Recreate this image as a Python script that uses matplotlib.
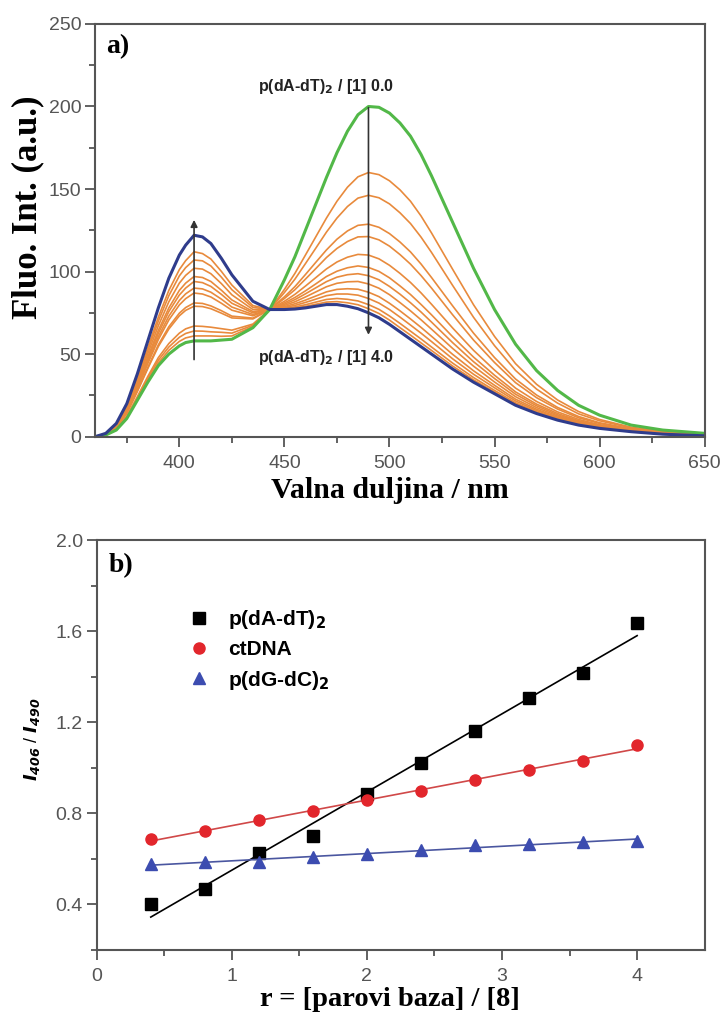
import numpy as np
import matplotlib
matplotlib.use("Agg")
import matplotlib.pyplot as plt

# panel a) - emission spectra, wavelength grid (nm)
valna = [360, 365, 370, 375, 380, 385, 390, 395, 400, 403, 407, 411, 415, 420, 425, 435, 443,
         450, 455, 460, 465, 470, 475, 480, 485, 490, 495, 500, 505, 510, 515, 520,
         530, 540, 550, 560, 570, 580, 590, 600, 615, 630, 650]

# p(dA-dT)2 / [1] = 0.0 (green)
zelena = [0, 1, 4, 11, 22, 33, 43, 50, 55, 57, 58, 58, 58, 58.5, 59, 66, 77,
          95, 109, 125, 141, 157, 172, 185, 195, 200, 199.5, 196, 190, 182, 171, 158,
          130, 102, 77, 56, 40, 28, 19, 13, 7, 4, 2]

# p(dA-dT)2 / [1] = 4.0 (blue)
plava = [0, 2, 8, 20, 38, 58, 78, 96, 110, 116, 122, 121, 117, 108, 98, 82, 77,
         77, 77.3, 78, 79, 80, 80, 79, 77.5, 75, 72, 68, 63.5, 59, 54.5, 50,
         41, 33, 26, 19, 14, 10, 7, 5, 3, 1.5, 0.5]

# intermediate titration spectra (orange)
narancaste = [
    [0, 1, 4.2, 11.5, 22.8, 34.2, 44.7, 52.3, 57.7, 59.8, 61, 61, 61, 60.8, 61, 66.8, 77,
     89.2, 98.9, 110, 121.2, 132.4, 142.6, 151.1, 157.4, 160, 158.7, 155, 149.5, 142.6, 133.7, 123.4,
     101.5, 79.9, 60.7, 44.2, 31.7, 22.2, 15.2, 10.4, 5.7, 3.2, 1.5],
    [0, 1.1, 4.4, 11.8, 23.5, 35.3, 46.3, 54.3, 60.2, 62.5, 64, 63.9, 63.5, 63.2, 62.7, 67.5, 77,
     87.3, 95.4, 104.8, 114.3, 123.9, 132.4, 139.4, 144.5, 146.2, 144.7, 141, 135.6, 129.1, 120.9, 111.6,
     91.7, 72.3, 55.1, 40.1, 28.8, 20.3, 13.8, 9.6, 5.3, 2.9, 1.4],
    [0, 1.1, 4.6, 12.3, 24.2, 36.5, 47.9, 56.4, 62.7, 65.3, 67, 66.8, 66.3, 65.4, 64.5, 68.2, 77,
     84.7, 90.9, 98.2, 105.7, 113.1, 119.6, 124.6, 128, 128.7, 126.8, 123, 117.9, 111.9, 104.6, 96.4,
     79.3, 62.7, 47.9, 34.9, 25.2, 17.7, 12.2, 8.4, 4.7, 2.6, 1.1],
    [0, 1.3, 5.3, 14, 27.3, 41.3, 54.6, 65.2, 73.2, 76.5, 79, 78.8, 77.5, 74.8, 71.9, 71.3, 77,
     83.7, 89, 95.4, 101.9, 108.5, 114, 118.2, 121, 121.2, 119.2, 115.4, 110.3, 104.5, 97.6, 90,
     73.9, 58.5, 44.9, 32.7, 23.6, 16.7, 11.4, 8, 4.5, 2.4, 1.1],
    [0, 1.4, 5.4, 14.2, 27.8, 42, 55.6, 66.6, 74.8, 78.2, 81, 80.7, 79.2, 76.3, 73, 71.8, 77,
     82, 86.2, 91.2, 96.4, 101.6, 105.8, 108.7, 110.4, 110, 107.7, 103.8, 98.9, 93.4, 87.1, 80.2,
     65.9, 52.3, 40.3, 29.4, 21.3, 15, 10.4, 7.2, 4.1, 2.2, 0.9],
    [0, 1.5, 5.8, 15, 29.2, 44.3, 58.8, 70.7, 79.8, 83.6, 87, 86.4, 84.6, 80.8, 76.6, 73.2, 77,
     81, 84.3, 88.3, 92.6, 97, 100.2, 102.3, 103.4, 102.5, 100.1, 96.2, 91.3, 86.1, 80.1, 73.8,
     60.6, 48.2, 37.2, 27.1, 19.7, 14, 9.6, 6.8, 3.9, 2, 0.8],
    [0, 1.5, 6, 15.5, 30, 45.5, 60.5, 73, 82.5, 86.5, 90, 89.5, 87.5, 83.3, 78.5, 74, 77,
     80.2, 83, 86.5, 90.2, 93.9, 96.6, 98.1, 98.7, 97.5, 95, 91, 86.3, 81.1, 75.5, 69.4,
     57, 45.4, 35.2, 25.7, 18.7, 13.2, 9.2, 6.4, 3.7, 1.9, 0.8],
    [0, 1.6, 6.2, 16, 31, 47, 62.6, 75.8, 85.8, 90, 94, 93.3, 91, 86.2, 80.8, 75, 77,
     79.5, 81.7, 84.6, 87.7, 90.8, 92.9, 93.8, 94, 92.5, 89.9, 86, 81.2, 76.2, 70.8, 65.1,
     53.5, 42.7, 33.1, 24.2, 17.6, 12.5, 8.7, 6.1, 3.6, 1.8, 0.7],
    [0, 1.6, 6.4, 16.5, 31.8, 48.3, 64.4, 78, 88.6, 93, 97, 96.4, 94, 88.7, 82.8, 75.8, 77,
     78.8, 80.5, 82.7, 85.2, 87.7, 89.2, 89.6, 89.3, 87.5, 84.8, 80.8, 76.2, 71.3, 66.2, 60.8,
     49.9, 39.9, 31.1, 22.7, 16.6, 11.8, 8.2, 5.8, 3.4, 1.7, 0.6],
    [0, 1.7, 6.8, 17.2, 33, 50.3, 67.2, 81.7, 93, 97.7, 102, 101.5, 98.7, 92.7, 85.9, 77, 77,
     78.3, 79.5, 81.3, 83.3, 85.4, 86.4, 86.4, 85.7, 83.7, 80.9, 77, 72.4, 67.6, 62.7, 57.6,
     47.2, 37.8, 29.6, 21.6, 15.8, 11.3, 7.8, 5.6, 3.3, 1.7, 0.6],
    [0, 1.8, 7.1, 17.9, 34.3, 52.3, 70, 85.4, 97.4, 102.4, 107, 106.5, 103.4, 96.6, 89, 78.3, 77,
     77.7, 78.6, 79.9, 81.5, 83.1, 83.7, 83.2, 82.2, 80, 77.1, 73.1, 68.6, 63.9, 59.2, 54.3,
     44.6, 35.8, 28, 20.5, 15, 10.7, 7.5, 5.3, 3.2, 1.6, 0.6],
    [0, 1.8, 7.4, 18.6, 35.4, 54, 72.4, 88.6, 101.2, 106.6, 112, 110.9, 107.6, 100.1, 91.8, 79.4, 77,
     77.4, 77.9, 78.9, 80.2, 81.5, 81.8, 81.1, 79.9, 77.5, 74.6, 70.6, 66, 61.5, 56.8, 52.2,
     42.8, 34.4, 27, 19.7, 14.5, 10.4, 7.2, 5.2, 3.1, 1.5, 0.5],
]

# panel b) - intensity ratio vs r
r = [0.4, 0.8, 1.2, 1.6, 2.0, 2.4, 2.8, 3.2, 3.6, 4.0]
dAdT = [0.40, 0.468, 0.627, 0.70, 0.884, 1.019, 1.161, 1.306, 1.417, 1.635]
ctDNA = [0.686, 0.722, 0.768, 0.809, 0.857, 0.896, 0.946, 0.990, 1.030, 1.099]
dGdC = [0.577, 0.584, 0.587, 0.606, 0.620, 0.639, 0.659, 0.664, 0.675, 0.678]

sans = ["Liberation Sans", "DejaVu Sans"]
serif = ["Liberation Serif", "DejaVu Serif"]
tickcol = "#555555"

fig = plt.figure(figsize=(7.22, 10.19), dpi=100)
ax1 = fig.add_axes([0.132, 0.5715, 0.844, 0.405])
ax2 = fig.add_axes([0.134, 0.068, 0.842, 0.402])

def styliraj(ax):
    for s in ax.spines.values():
        s.set_color("#555555")
        s.set_linewidth(1.5)
    ax.tick_params(which="both", direction="out", colors=tickcol, labelsize=14,
                   width=1.3, top=False, right=False)
    ax.tick_params(which="major", length=7)
    ax.tick_params(which="minor", length=4.5)
    ax.tick_params(axis="x", which="major", pad=6)
    ax.tick_params(axis="y", which="major", pad=3)
    for lab in ax.get_xticklabels() + ax.get_yticklabels():
        lab.set_family(sans)

# ---- a)
for c in narancaste:
    ax1.plot(valna, c, color="#e88a3c", lw=1.2)
ax1.plot(valna, zelena, color="#52b848", lw=2.2)
ax1.plot(valna, plava, color="#2f3c8c", lw=2.2)

ax1.annotate("", xy=(407, 133), xytext=(407, 45),
             arrowprops=dict(arrowstyle="-|>", color="#333333", lw=1.2, mutation_scale=10))
ax1.annotate("", xy=(490, 60), xytext=(490, 201),
             arrowprops=dict(arrowstyle="-|>", color="#333333", lw=1.2, mutation_scale=10))
ax1.text(470, 212, "p(dA-dT)$_\\mathbf{2}$ / [1] 0.0", ha="center", va="center",
         fontsize=11.5, fontweight="bold", family=sans, color="#222222")
ax1.text(470, 48, "p(dA-dT)$_\\mathbf{2}$ / [1] 4.0", ha="center", va="center",
         fontsize=11.5, fontweight="bold", family=sans, color="#222222")
ax1.text(0.017, 0.944, "a)", transform=ax1.transAxes, ha="left", va="center",
         fontsize=20, fontweight="bold", family=serif)

ax1.set_xlim(360, 650)
ax1.set_ylim(0, 250)
ax1.set_xticks([400, 450, 500, 550, 600, 650])
ax1.set_xticks(np.arange(375, 650, 25), minor=True)
ax1.set_yticks(np.arange(0, 251, 50))
ax1.set_yticks(np.arange(25, 250, 50), minor=True)
styliraj(ax1)
ax1.set_xlabel("Valna duljina / nm", fontsize=21.5, fontweight="bold", family=serif)
ax1.set_ylabel("Fluo. Int. (a.u.)", fontsize=25, fontweight="bold", family=serif)
ax1.xaxis.set_label_coords(0.483, -0.097)
ax1.yaxis.set_label_coords(-0.083, 0.557)

# ---- b)
serije = [
    (dAdT, "s", "black", "black", "p(dA-dT)$_\\mathbf{2}$"),
    (ctDNA, "o", "#e2262c", "#d04848", "ctDNA"),
    (dGdC, "^", "#3c4cb0", "#4a56a0", "p(dG-dC)$_\\mathbf{2}$"),
]
for y, m, c, lc, lab in serije:
    k, n = np.polyfit(r, y, 1)
    ax2.plot([r[0], r[-1]], [k * r[0] + n, k * r[-1] + n], color=lc, lw=1.2)
    ax2.plot(r, y, m, color=c, ms=8, ls="none", label=lab)

ax2.legend(loc="upper left", bbox_to_anchor=(0.117, 0.88), frameon=False,
           prop=dict(family=sans, weight="bold", size=15), handletextpad=0.8,
           labelspacing=0.45, handlelength=1.2)
ax2.text(0.019, 0.937, "b)", transform=ax2.transAxes, ha="left", va="center",
         fontsize=20, fontweight="bold", family=serif)

ax2.set_xlim(0, 4.5)
ax2.set_ylim(0.2, 2.0)
ax2.set_xticks([0, 1, 2, 3, 4])
ax2.set_xticks(np.arange(0.5, 4.5, 1), minor=True)
ax2.set_yticks([0.4, 0.8, 1.2, 1.6, 2.0])
ax2.set_yticks([0.2, 0.6, 1.0, 1.4, 1.8], minor=True)
ax2.yaxis.set_major_formatter(matplotlib.ticker.FormatStrFormatter("%.1f"))
styliraj(ax2)
ax2.set_xlabel("r = [parovi baza] / [8]", fontsize=20.5, fontweight="bold", family=serif)
ax2.set_ylabel("$\\mathbfit{I}_{\\mathbfit{406}}$ / $\\mathbfit{I}_{\\mathbfit{490}}$",
               fontsize=13, family=sans)
ax2.xaxis.set_label_coords(0.482, -0.092)
ax2.yaxis.set_label_coords(-0.09, 0.513)

fig.savefig("out.png", dpi=100)
